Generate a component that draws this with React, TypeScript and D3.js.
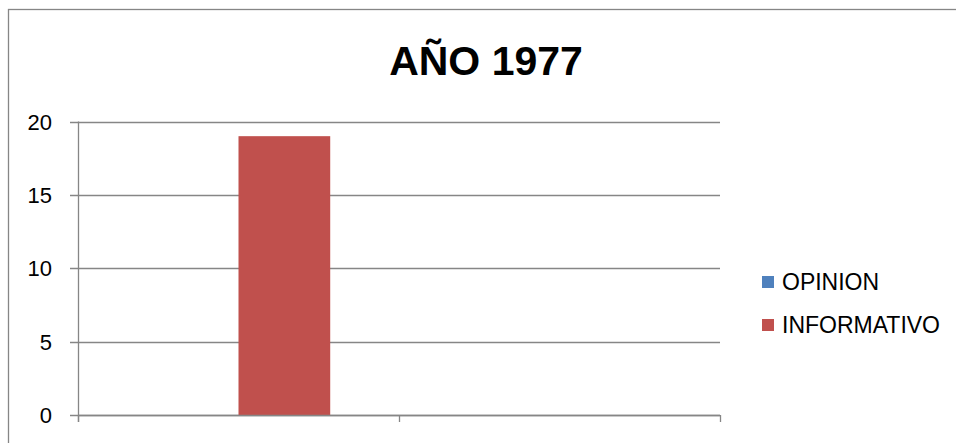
import React from "react";
import * as d3 from "d3";

const title = "AÑO 1977";
const categories = ["", ""];
const seriesNames = ["OPINION", "INFORMATIVO"];
const opinionValues = [0, 0];
const informativoValues = [19, 0];
const yTicks = [0, 5, 10, 15, 20];
const seriesColors = ["#4F81BD", "#C0504D"];

export default function App() {
  const W = 956;
  const H = 443;
  const left = 78;
  const right = 720;
  const top = 121.5;
  const bottom = 415;
  const font = "'Liberation Sans', Arial, sans-serif";
  const gridColor = "#868686";

  const x = d3.scaleBand<number>().domain(categories.map((_, i) => i)).range([left, right]).paddingInner(0).paddingOuter(0);
  const xs = d3.scaleBand<number>().domain(seriesNames.map((_, i) => i)).range([0, x.bandwidth()]).paddingInner(0).paddingOuter(0.75);
  const y = d3.scaleLinear().domain([0, 20]).range([bottom, top]);
  const series = [opinionValues, informativoValues];

  const catEdges = categories.map((_, i) => x(i)!).concat([right]);

  return (
    <svg width={W} height={H} style={{ position: "absolute", left: 0, top: 0, background: "#fff" }}>
      <rect x={8.5} y={9.5} width={W + 20} height={H + 20} fill="#fff" stroke={gridColor} strokeWidth={1.3} />
      <text x={486} y={75} textAnchor="middle" fontFamily={font} fontWeight="bold" fontSize={41} fill="#000">{title}</text>
      {yTicks.map((t) => (
        <g key={t}>
          <line x1={70} x2={right} y1={Math.round(y(t)) + 0.5} y2={Math.round(y(t)) + 0.5} stroke={gridColor} strokeWidth={1.3} />
          <text x={52} y={y(t) + 8} textAnchor="end" fontFamily={font} fontSize={22} fill="#000">{t}</text>
        </g>
      ))}
      {series.map((vals, s) =>
        vals.map((v, i) => {
          const bx = x(i)! + xs(s)!;
          return v > 0 ? (
            <rect key={`${s}-${i}`} x={bx} y={y(v)} width={xs.bandwidth()} height={y(0) - y(v)} fill={seriesColors[s]} />
          ) : null;
        })
      )}
      <line x1={left + 0.5} x2={left + 0.5} y1={top} y2={bottom + 7} stroke={gridColor} strokeWidth={1.3} />
      <line x1={left} x2={right} y1={Math.round(y(0)) + 0.5} y2={Math.round(y(0)) + 0.5} stroke={gridColor} strokeWidth={1.3} />
      {catEdges.map((cx, i) => (
        <line key={i} x1={cx + 0.5} x2={cx + 0.5} y1={bottom} y2={bottom + 7} stroke={gridColor} strokeWidth={1.3} />
      ))}
      {seriesNames.map((name, s) => (
        <g key={name}>
          <rect x={762} y={276 + s * 43} width={12} height={12} fill={seriesColors[s]} />
          <text x={782} y={290 + s * 43} fontFamily={font} fontSize={23} fill="#000">{name}</text>
        </g>
      ))}
    </svg>
  );
}
